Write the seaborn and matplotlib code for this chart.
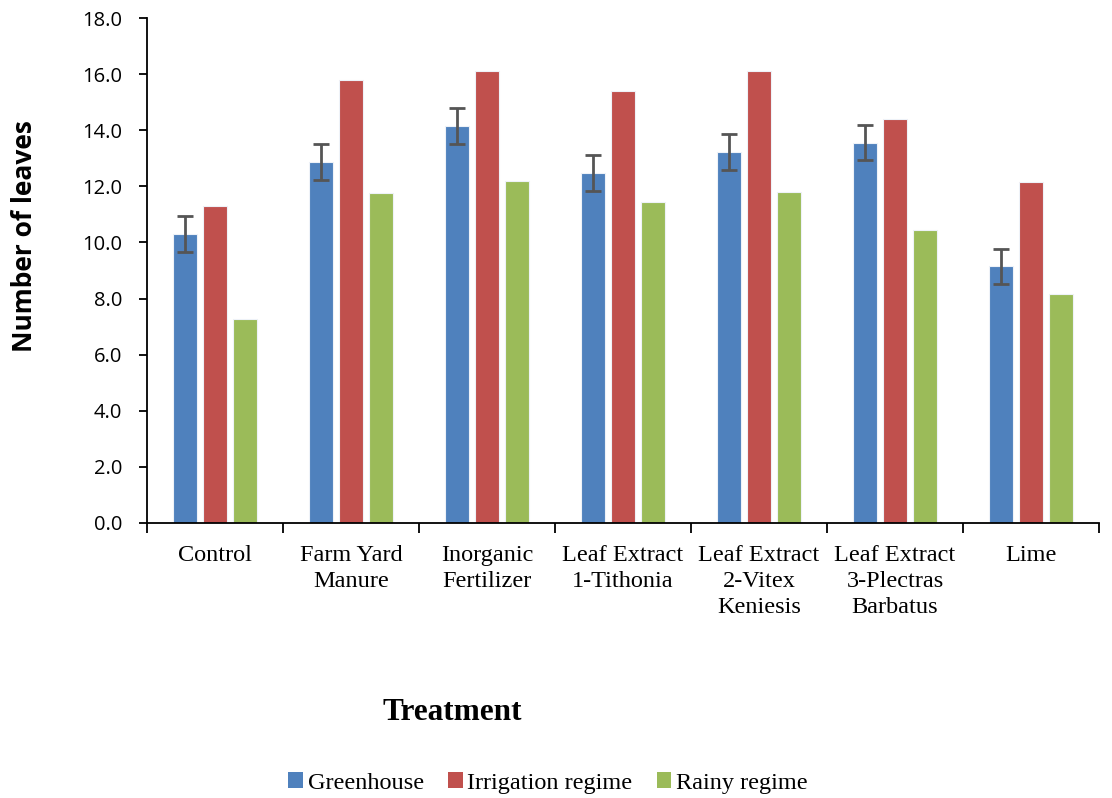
import matplotlib
matplotlib.use("Agg")
import matplotlib.pyplot as plt
import seaborn as sns
import pandas as pd
import numpy as np
from matplotlib.patches import Patch

categories = ["Control", "Farm Yard\nManure", "Inorganic\nFertilizer", "Leaf Extract\n1-Tithonia",
              "Leaf Extract\n2-Vitex\nKeniesis", "Leaf Extract\n3-Plectras\nBarbatus", "Lime"]
series = ["Greenhouse", "Irrigation regime", "Rainy regime"]
greenhouse = [10.3, 12.87, 14.15, 12.47, 13.22, 13.56, 9.15]
irrigation = [11.3, 15.8, 16.1, 15.4, 16.1, 14.4, 12.15]
rainy = [7.27, 11.75, 12.2, 11.44, 11.8, 10.44, 8.16]
greenhouse_err = [0.63, 0.63, 0.63, 0.63, 0.63, 0.63, 0.63]
colors = ["#4F81BD", "#C0504D", "#9BBB59"]

df = pd.DataFrame({
    "Treatment": categories * 3,
    "Series": sum([[s] * len(categories) for s in series], []),
    "Value": greenhouse + irrigation + rainy,
})

sns.set_style("white")
plt.rcParams["font.family"] = ["Liberation Serif", "DejaVu Serif"]
plt.rcParams["text.color"] = "black"
plt.rcParams["xtick.color"] = "black"
plt.rcParams["ytick.color"] = "black"

fig = plt.figure(figsize=(11.12, 7.98), dpi=100)
ax = fig.add_axes([147/1112, 1-523/798, (1099-147)/1112, (523-18)/798])

sns.barplot(data=df, x="Treatment", y="Value", hue="Series", order=categories, hue_order=series,
            palette=colors, saturation=1, width=0.66, gap=0.2, errorbar=None, ax=ax,
            edgecolor="#eef2f8", linewidth=0.8, legend=False)

# error bars on greenhouse bars
cont = ax.containers[0]
xs = [p.get_x() + p.get_width()/2 for p in cont.patches]
ax.errorbar(xs, greenhouse, yerr=greenhouse_err, fmt="none", ecolor="#555555",
            elinewidth=2, capsize=6, capthick=2, zorder=5)

ax.set_ylim(0, 18)
ax.set_xlim(-0.5, len(categories) - 0.5)
yt = np.arange(0, 18.1, 2)
ax.set_yticks(yt)
ax.set_yticklabels([f"{v:.1f}" for v in yt], family=["Open Sans", "DejaVu Sans"], fontsize=14.5)

ax.set_xticks(np.arange(-0.5, len(categories), 1.0))
ax.set_xticklabels([""] * (len(categories) + 1))
ax.set_xticks(np.arange(len(categories)), minor=True)
ax.set_xticklabels(categories, minor=True, fontsize=17.5, linespacing=1.3)
ax.tick_params(axis="x", which="minor", bottom=True, length=0, pad=16)
ax.tick_params(axis="x", which="major", bottom=True, length=7, width=1.3, direction="out", color="black")
ax.tick_params(axis="y", left=True, length=6, width=1.3, direction="out", color="black", pad=12)

for s in ["top", "right"]:
    ax.spines[s].set_visible(False)
for s in ["left", "bottom"]:
    ax.spines[s].set_color("black")
    ax.spines[s].set_linewidth(1.3)

ax.set_xlabel("")
ax.set_ylabel("")
fig.text(25/1112, 1-236/798, "Number of leaves", rotation=90, ha="center", va="center",
         fontsize=19, fontweight="bold", family=["Open Sans", "DejaVu Sans"])
fig.text(452/1112, 1-712/798, "Treatment", ha="center", va="center", fontsize=22.5, fontweight="bold")

handles = [Patch(facecolor=c, edgecolor="none") for c in colors]
fig.legend(handles, series, loc="center", bbox_to_anchor=(548/1112, 1-783/798), ncol=3,
           frameon=False, fontsize=17.5, handlelength=0.6, handleheight=0.6, handletextpad=0.2,
           columnspacing=1.0)

fig.savefig("out.png", dpi=100)
